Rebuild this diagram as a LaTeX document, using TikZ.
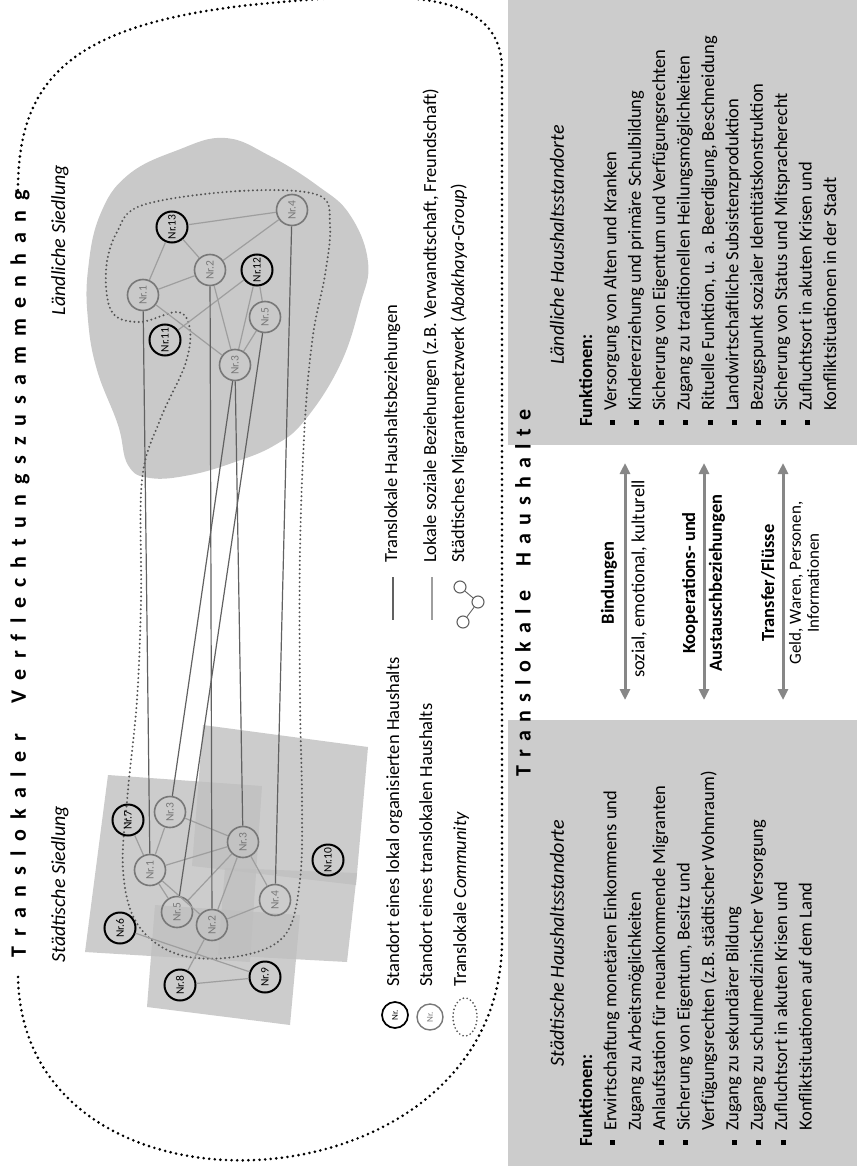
\documentclass[tikz,border=0pt]{standalone}
\usepackage{fontspec}
\setmainfont{Carlito}
\usetikzlibrary{arrows.meta}
\definecolor{boxgray}{gray}{0.80}
\definecolor{blobgray}{gray}{0.79}
\definecolor{tlinec}{gray}{0.38}
\definecolor{llinec}{gray}{0.62}
\definecolor{nodegray}{gray}{0.47}
\definecolor{arrgray}{gray}{0.53}
\definecolor{commc}{gray}{0.33}
\newcommand{\fbul}{\makebox[14pt][l]{\rule[1.5pt]{5pt}{5pt}}}
\newcommand{\findent}{\hspace*{14pt}}
\begin{document}
\begin{tikzpicture}[x=1pt,y=-1pt,
  hhb/.style={circle,draw=black,line width=2pt,minimum size=31pt,inner sep=0pt,rotate=90,font=\fontsize{11.5}{12}\selectfont},
  hhg/.style={circle,draw=nodegray,text=nodegray,line width=1.6pt,minimum size=31pt,inner sep=0pt,rotate=90,font=\fontsize{11.5}{12}\selectfont},
  tlink/.style={draw=tlinec,line width=1.2pt},
  llink/.style={draw=llinec,line width=1.2pt},
  outerdots/.style={line width=2.9pt,dash pattern=on 0pt off 5.6pt,line cap=round},
  commdots/.style={draw=commc,line width=2.2pt,dash pattern=on 0pt off 4.3pt,line cap=round},
  body/.style={rotate=90,anchor=base west,inner sep=0pt,font=\fontsize{18.5}{21}\selectfont},
  ctext/.style={rotate=90,anchor=center,inner sep=0pt,font=\fontsize{18.5}{21}\selectfont},
  btext/.style={rotate=90,anchor=center,inner sep=0pt,font=\fontsize{18.5}{21}\selectfont\bfseries},
  itext/.style={rotate=90,anchor=center,inner sep=0pt,font=\fontsize{20}{22}\selectfont\itshape},
  dblarr/.style={draw=arrgray,line width=3pt,{Triangle[length=11pt,width=10pt]}-{Triangle[length=11pt,width=10pt]}},
  urect/.style={fill=gray!50,fill opacity=0.8},
  netc/.style={circle,draw=tlinec,line width=1.1pt,minimum size=12pt,inner sep=0pt},
]
\useasboundingbox (0,0) rectangle (857,1166);
% function boxes
\fill[boxgray] (508,0) rectangle (857,445);
\fill[boxgray] (508,720) rectangle (857,1166);
% outer boundary
\draw[outerdots] (18,190) .. controls (18,80) and (70,25) .. (250,5)
  .. controls (400,-10) and (502,-12) .. (502,70) -- (502,940)
  .. controls (502,1215) and (18,1240) .. (18,973);
% rural blob
\fill[blobgray] plot[smooth cycle,tension=0.7] coordinates {(100,215) (128,175) (178,150) (225,138) (270,156) (318,186) (350,215) (368,262) (360,305) (340,365) (305,420) (275,445) (235,462) (190,475) (150,478) (128,465) (118,425) (97,370) (88,320) (88,270)};
% urban rectangles
\fill[urect] (108,775) -- (262,786) -- (250,962) -- (85,952) -- cycle;
\fill[urect] (203,725) -- (368,747) -- (356,885) -- (192,866) -- cycle;
\fill[urect] (225,868) -- (357,873) -- (347,962) -- (218,955) -- cycle;
\fill[urect] (155,905) -- (300,915) -- (290,1025) -- (147,1007) -- cycle;
% community outline
\draw[commdots] plot[smooth cycle,tension=0.6] coordinates {(143,205) (240,191) (318,195) (330,225) (325,275) (313,335) (305,420) (300,550) (300,700) (302,800) (300,880) (285,935) (240,956) (180,955) (138,925) (123,870) (128,790) (137,700) (141,600) (142,480) (160,420) (185,365) (190,330) (178,312) (140,322) (112,312) (106,270) (117,232)};
% rural nodes
\node[hhb] (r13) at (172,227) {Nr.13};
\node[hhg] (r4) at (292,210) {Nr.4};
\node[hhg] (r2) at (210,270) {Nr.2};
\node[hhb] (r12) at (257,270) {Nr.12};
\node[hhg] (r1) at (143,295) {Nr.1};
\node[hhg] (r5) at (265,317) {Nr.5};
\node[hhb] (r11) at (165,340) {Nr.11};
\node[hhg] (r3) at (235,365) {Nr.3};
% urban nodes
\node[hhb] (u7) at (128,820) {Nr.7};
\node[hhg] (u3a) at (170,812) {Nr.3};
\node[hhg] (u3b) at (243,842) {Nr.3};
\node[hhb] (u10) at (328,860) {Nr.10};
\node[hhg] (u1) at (150,870) {Nr.1};
\node[hhg] (u4) at (275,900) {Nr.4};
\node[hhg] (u5) at (177,912) {Nr.5};
\node[hhg] (u2) at (212,925) {Nr.2};
\node[hhb] (u6) at (120,928) {Nr.6};
\node[hhb] (u9) at (265,977) {Nr.9};
\node[hhb] (u8) at (180,985) {Nr.8};
% local links rural
\foreach \a/\b in {r13/r4,r13/r1,r13/r2,r4/r2,r2/r1,r12/r11,r1/r3,r12/r3,r5/r3,r12/r5,r2/r3}
  \draw[llink] (\a) -- (\b);
% local links urban
\foreach \a/\b in {u3a/u3b,u3a/u1,u1/u3b,u3b/u5,u3b/u2,u3b/u4,u1/u2,u1/u5,u2/u4,u7/u1,u6/u9,u8/u9,u8/u2}
  \draw[llink] (\a) -- (\b);
% translocal links
\foreach \a/\b in {r1/u1,r2/u2,r3/u3a,r3/u3b,r5/u5,r4/u4}
  \draw[tlink] (\a) -- (\b);
% titles
\node[rotate=90,inner sep=0pt,font=\fontsize{22}{24}\selectfont\bfseries] (title) at (20,574)
 {\makebox[767pt][s]{T\hfill r\hfill a\hfill n\hfill s\hfill l\hfill o\hfill k\hfill a\hfill l\hfill e\hfill r\hfill\hfill\hfill V\hfill e\hfill r\hfill f\hfill l\hfill e\hfill c\hfill h\hfill t\hfill u\hfill n\hfill g\hfill s\hfill z\hfill u\hfill s\hfill a\hfill m\hfill m\hfill e\hfill n\hfill h\hfill a\hfill n\hfill g}};
\node[rotate=90,inner sep=0pt,font=\fontsize{22}{24}\selectfont\bfseries] (title2) at (523,593)
 {\makebox[367pt][s]{T\hfill r\hfill a\hfill n\hfill s\hfill l\hfill o\hfill k\hfill a\hfill l\hfill e\hfill\hfill\hfill H\hfill a\hfill u\hfill s\hfill h\hfill a\hfill l\hfill t\hfill e}};
\node[itext] (lsied) at (60,240) {Ländliche Siedlung};
\node[itext] (ssied) at (60,884) {Städtische Siedlung};
\node[itext] (rtitle) at (557,245) {Ländliche Haushaltsstandorte};
\node[itext] (utitle) at (557,943) {Städtische Haushaltsstandorte};
% rural functions
\node[body,font=\fontsize{18.5}{21}\selectfont\bfseries] (rf0) at (592,427) {Funktionen:};
\node[body] (rf1) at (616.4,425) {\fbul Versorgung von Alten und Kranken};
\node[body] (rf2) at (640.8,425) {\fbul Kindererziehung und primäre Schulbildung};
\node[body] (rf3) at (665.2,425) {\fbul Sicherung von Eigentum und Verfügungsrechten};
\node[body] (rf4) at (689.6,425) {\fbul Zugang zu traditionellen Heilungsmöglichkeiten};
\node[body] (rf5) at (714,425) {\fbul Rituelle Funktion, u. a. Beerdigung, Beschneidung};
\node[body] (rf6) at (738.4,425) {\fbul Landwirtschaftliche Subsistenzproduktion};
\node[body] (rf7) at (762.8,425) {\fbul Bezugspunkt sozialer Identitätskonstruktion};
\node[body] (rf8) at (787.2,425) {\fbul Sicherung von Status und Mitspracherecht};
\node[body] (rf9) at (811.6,425) {\fbul Zufluchtsort in akuten Krisen und};
\node[body] (rf10) at (836,425) {\findent Konfliktsituationen in der Stadt};
% urban functions
\node[body,font=\fontsize{18.5}{21}\selectfont\bfseries] (uf0) at (592,1147) {Funktionen:};
\node[body] (uf1) at (616.4,1145) {\fbul Erwirtschaftung monetären Einkommens und};
\node[body] (uf2) at (640.8,1145) {\findent Zugang zu Arbeitsmöglichkeiten};
\node[body] (uf3) at (665.2,1145) {\fbul Anlaufstation für neuankommende Migranten};
\node[body] (uf4) at (689.6,1145) {\fbul Sicherung von Eigentum, Besitz und};
\node[body] (uf5) at (714,1145) {\findent Verfügungsrechten (z.B. städtischer Wohnraum)};
\node[body] (uf6) at (738.4,1145) {\fbul Zugang zu sekundärer Bildung};
\node[body] (uf7) at (762.8,1145) {\fbul Zugang zu schulmedizinischer Versorgung};
\node[body] (uf8) at (787.2,1145) {\fbul Zufluchtsort in akuten Krisen und};
\node[body] (uf9) at (811.6,1145) {\findent Konfliktsituationen auf dem Land};
% arrows
\coordinate (a1s) at (625,700); \coordinate (a1e) at (625,463);
\coordinate (a2s) at (704,700); \coordinate (a2e) at (704,463);
\coordinate (a3s) at (783,700); \coordinate (a3e) at (783,463);
\draw[dblarr] (a1s) -- (a1e);
\draw[dblarr] (a2s) -- (a2e);
\draw[dblarr] (a3s) -- (a3e);
\node[btext] (bind) at (609,583) {Bindungen};
\node[ctext] (bindt) at (639,579) {sozial, emotional, kulturell};
\node[btext] (koop) at (690,583) {Kooperations- und};
\node[btext] (koop2) at (717,583) {Austauschbeziehungen};
\node[btext] (trans) at (768,583) {Transfer/Flüsse};
\node[ctext,font=\fontsize{17}{18}\selectfont] (transt) at (796,583) {Geld, Waren, Personen,};
\node[ctext,font=\fontsize{17}{18}\selectfont] (transt2) at (813,583) {Informationen};
% legend
\node[hhb,minimum size=26pt,line width=1.7pt,font=\fontsize{9}{9}\selectfont] (lgb) at (395,1015) {Nr.};
\node[hhg,minimum size=26pt,line width=1.4pt,font=\fontsize{9}{9}\selectfont] (lgg) at (430,1017) {Nr.};
\draw[commdots,line width=1.9pt,dash pattern=on 0pt off 3.8pt] (465,1017) ellipse [x radius=12, y radius=19];
\node[body] (lg1) at (399,987) {Standort eines lokal organisierten Haushalts};
\node[body] (lg2) at (432,987) {Standort eines translokalen Haushalts};
\node[body] (lg3) at (466,987) {Translokale \textit{Community}};
\coordinate (l1a) at (393,577); \coordinate (l1b) at (393,620);
\coordinate (l2a) at (432,577); \coordinate (l2b) at (432,620);
\draw[tlink] (l1a) -- (l1b);
\draw[llink] (l2a) -- (l2b);
\node[netc] (n1) at (460,587) {};
\node[netc] (n2) at (478,602) {};
\node[netc] (n3) at (463,622) {};
\draw[tlink,line width=0.9pt] (n1) -- (n2);
\draw[tlink,line width=0.9pt] (n2) -- (n3);
\node[body] (lg4) at (397,563) {Translokale Haushaltsbeziehungen};
\node[body] (lg5) at (436,563) {Lokale soziale Beziehungen (z.B. Verwandtschaft, Freundschaft)};
\node[body] (lg6) at (464,563) {Städtisches Migrantennetzwerk (\textit{Abakhaya-Group})};
\end{tikzpicture}
\end{document}
